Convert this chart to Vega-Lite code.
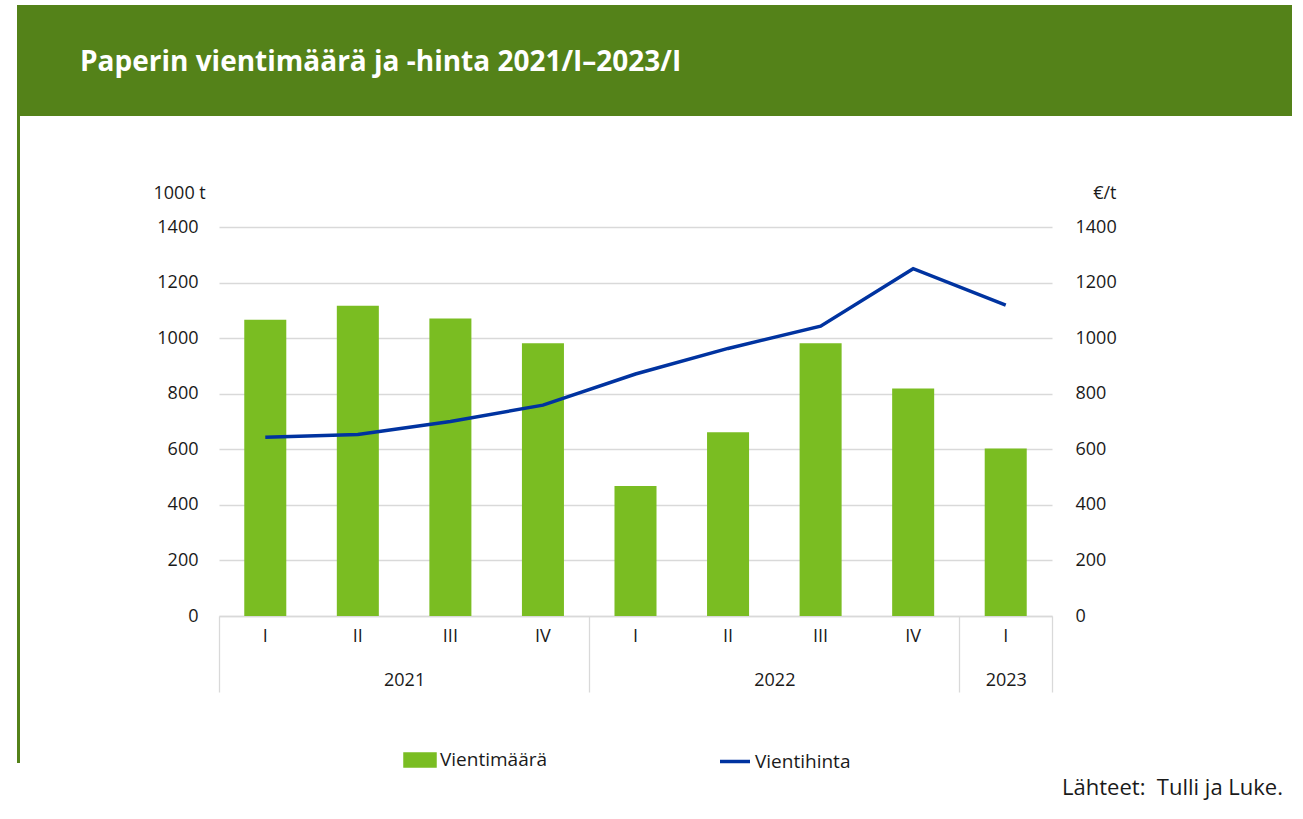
{
  "$schema": "https://vega.github.io/schema/vega-lite/v6.json",
  "background": "white",
  "padding": {"left": 15, "top": 5, "right": 0, "bottom": 20},
  "autosize": {"type": "pad"},
  "config": {
    "view": {"stroke": null},
    "font": "Open Sans",
    "axis": {"labelFont": "Open Sans", "titleFont": "Open Sans", "labelColor": "#1a1a1a", "titleColor": "#1a1a1a"},
    "legend": {"labelFont": "Open Sans", "labelColor": "#1a1a1a"}
  },
  "datasets": {
    "paperi": [
      {"kvartaali": "2021/I", "vientimaara": 1066, "vientihinta": 643},
      {"kvartaali": "2021/II", "vientimaara": 1117, "vientihinta": 653},
      {"kvartaali": "2021/III", "vientimaara": 1071, "vientihinta": 700},
      {"kvartaali": "2021/IV", "vientimaara": 982, "vientihinta": 759},
      {"kvartaali": "2022/I", "vientimaara": 468, "vientihinta": 871},
      {"kvartaali": "2022/II", "vientimaara": 661, "vientihinta": 963},
      {"kvartaali": "2022/III", "vientimaara": 982, "vientihinta": 1043},
      {"kvartaali": "2022/IV", "vientimaara": 819, "vientihinta": 1250},
      {"kvartaali": "2023/I", "vientimaara": 603, "vientihinta": 1119}
    ],
    "vuodet": [
      {"vuosi": "2021", "alku": 0, "loppu": 4},
      {"vuosi": "2022", "alku": 4, "loppu": 8},
      {"vuosi": "2023", "alku": 8, "loppu": 9}
    ]
  },
  "bounds": "flush",
  "spacing": 0,
  "vconcat": [
    {
      "width": 1275,
      "height": 111,
      "view": {"fill": "#548219", "stroke": null},
      "title": {
        "text": "Paperin vientimäärä ja -hinta 2021/I–2023/I",
        "orient": "top",
        "anchor": "start",
        "frame": "group",
        "offset": -94,
        "dx": 63,
        "baseline": "alphabetic",
        "color": "white",
        "font": "Open Sans",
        "fontSize": 28,
        "fontWeight": "bold"
      },
      "data": {"values": [{}]},
      "mark": {"type": "point", "opacity": 0}
    },
    {
      "bounds": "flush",
      "spacing": 199,
      "hconcat": [
        {
          "width": 3,
          "height": 647,
          "view": {"fill": "#548219", "stroke": null},
          "data": {"values": [{}]},
          "mark": {"type": "point", "opacity": 0}
        },
        {
          "bounds": "flush",
          "spacing": 110,
          "vconcat": [
            {
              "width": 1,
              "height": 1,
              "data": {"values": [{}]},
              "mark": {"type": "point", "opacity": 0}
            },
            {
              "width": 833,
              "height": 389,
              "title": {
                "text": "Lähteet:\u00a0 Tulli ja Luke.",
                "orient": "bottom",
                "anchor": "end",
                "frame": "group",
                "dx": 231,
                "offset": 85,
                "baseline": "top",
                "font": "Open Sans",
                "fontSize": 22,
                "fontWeight": "normal",
                "color": "#1a1a1a"
              },
              "layer": [
                {
                  "data": {"name": "paperi"},
                  "layer": [
                    {
                      "mark": {"type": "bar"},
                      "encoding": {
                        "x": {
                          "field": "kvartaali",
                          "type": "ordinal",
                          "sort": null,
                          "scale": {"paddingInner": 0.546, "paddingOuter": 0.273},
                          "axis": {
                            "title": null,
                            "labelExpr": "split(datum.label, '/')[1]",
                            "labelAngle": 0,
                            "ticks": false,
                            "tickSize": 0,
                            "domain": true,
                            "domainColor": "#d9d9d9",
                            "domainWidth": 1.3,
                            "labelPadding": 11,
                            "labelFontSize": 18,
                            "grid": false
                          }
                        },
                        "y": {
                          "field": "vientimaara",
                          "type": "quantitative",
                          "scale": {"domain": [0, 1400], "nice": false},
                          "axis": {
                            "orient": "left",
                            "values": [0, 200, 400, 600, 800, 1000, 1200, 1400],
                            "format": "d",
                            "grid": true,
                            "gridColor": "#d9d9d9",
                            "gridWidth": 1.3,
                            "domain": false,
                            "ticks": false,
                            "tickSize": 0,
                            "labelPadding": 21,
                            "labelFontSize": 18,
                            "title": "1000 t",
                            "titleAngle": 0,
                            "titleAlign": "left",
                            "titleBaseline": "alphabetic",
                            "titleX": -66,
                            "titleY": -29,
                            "titleFontSize": 18,
                            "titleFontWeight": "normal"
                          }
                        },
                        "color": {
                          "datum": "Vientimäärä",
                          "scale": {"domain": ["Vientimäärä", "Vientihinta"], "range": ["#7ABD22", "#0033A0"]},
                          "legend": {
                            "orient": "none",
                            "legendX": 386,
                            "legendY": 738,
                            "direction": "horizontal",
                            "title": null,
                            "symbolSize": 900,
                            "labelFontSize": 19,
                            "labelOffset": 3,
                            "labelBaseline": "middle",
                            "gridAlign": "all",
                            "columnPadding": 165,
                            "encode": {
                              "symbols": {
                                "update": {
                                  "shape": {"signal": "datum.value === 'Vientihinta' ? 'M-1,0H1' : 'M-1,-0.4H1V0.4H-1Z'"},
                                  "fill": {"signal": "datum.value === 'Vientihinta' ? 'transparent' : '#7ABD22'"},
                                  "stroke": {"signal": "datum.value === 'Vientihinta' ? '#0033A0' : 'transparent'"},
                                  "strokeWidth": {"value": 3.5},
                                  "size": {"value": 900},
                                  "opacity": {"value": 1}
                                }
                              }
                            }
                          }
                        }
                      }
                    },
                    {
                      "mark": {"type": "line", "strokeWidth": 3.5, "interpolate": "linear"},
                      "encoding": {
                        "x": {"field": "kvartaali", "type": "ordinal", "sort": null},
                        "y": {
                          "field": "vientihinta",
                          "type": "quantitative",
                          "scale": {"domain": [0, 1400], "nice": false},
                          "axis": {
                            "orient": "right",
                            "values": [0, 200, 400, 600, 800, 1000, 1200, 1400],
                            "format": "d",
                            "grid": false,
                            "domain": false,
                            "ticks": false,
                            "tickSize": 0,
                            "labelPadding": 23,
                            "labelFontSize": 18,
                            "title": "€/t",
                            "titleAngle": 0,
                            "titleAlign": "right",
                            "titleBaseline": "alphabetic",
                            "titleX": 64,
                            "titleY": -29,
                            "titleFontSize": 18,
                            "titleFontWeight": "normal"
                          }
                        },
                        "color": {"datum": "Vientihinta"}
                      }
                    }
                  ],
                  "resolve": {"scale": {"y": "independent"}}
                },
                {
                  "data": {"name": "vuodet"},
                  "mark": {"type": "point", "opacity": 0},
                  "encoding": {
                    "x": {
                      "field": "alku",
                      "type": "quantitative",
                      "scale": {"domain": [0, 9], "nice": false, "zero": false},
                      "axis": {
                        "orient": "bottom",
                        "title": null,
                        "values": [0, 2, 4, 6, 8, 8.5, 9],
                        "labelExpr": "datum.value == 2 ? '2021' : datum.value == 6 ? '2022' : datum.value == 8.5 ? '2023' : ''",
                        "tickSize": 76,
                        "tickColor": "#d9d9d9",
                        "tickWidth": 1.3,
                        "tickOpacity": {"condition": {"test": "indexof([0, 4, 8, 9], datum.value) >= 0", "value": 1}, "value": 0},
                        "domain": false,
                        "grid": false,
                        "labelPadding": -21,
                        "labelFontSize": 18,
                        "labelFlush": false,
                        "labelOverlap": false,
                        "labelBound": false
                      }
                    }
                  }
                }
              ],
              "resolve": {"scale": {"x": "independent"}}
            }
          ]
        }
      ]
    }
  ]
}
